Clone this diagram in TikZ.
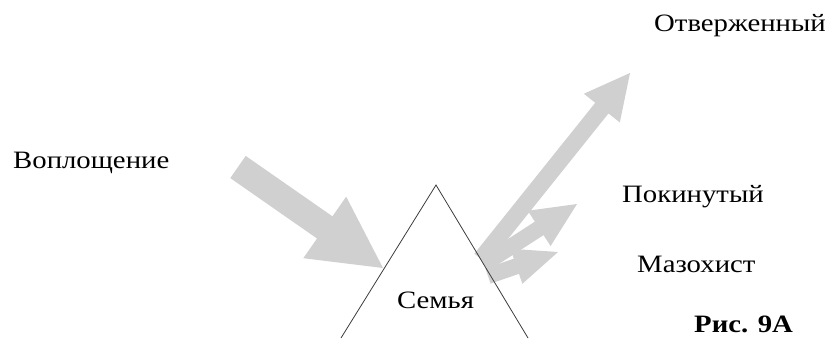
\documentclass[tikz,border=0pt]{standalone}
\usepackage{fontspec}
\setmainfont{Liberation Serif}[FakeStretch=1.15]
\usetikzlibrary{calc}
\definecolor{arrowgray}{RGB}{208,208,208}
\definecolor{edgegray}{RGB}{60,60,60}
\tikzset{
  lbl/.style={anchor=base west,inner sep=0pt,font=\fontsize{25}{30}\selectfont},
  fig/.style={anchor=base west,inner sep=0pt,font=\fontsize{25}{30}\selectfont\bfseries},
  arrowfill/.style={fill=arrowgray},
  edge/.style={draw=edgegray,line width=0.8pt}
}
% #1 tail, #2 tip, #3 half shaft width, #4 half head width, #5 head length
\newcommand\fatarrow[5]{%
  \coordinate (fa-h) at ($(#2)!#5!(#1)$);
  \fill[arrowfill] ($(#1)!#3!90:(#2)$) -- ($(fa-h)!#3!90:(#2)$) -- ($(fa-h)!#4!90:(#2)$)
    -- (#2) -- ($(fa-h)!#4!-90:(#2)$) -- ($(fa-h)!#3!-90:(#2)$) -- ($(#1)!#3!-90:(#2)$) -- cycle;
}
\begin{document}
\begin{tikzpicture}[x=1pt,y=-1pt]
\useasboundingbox (0,0) rectangle (830,338);
% coordinates
\coordinate (inTail) at (238,167);
\coordinate (inTip) at (383,268);
\coordinate (rejTail) at (481,259);
\coordinate (rejTip) at (630,73);
\coordinate (abTail) at (484,264);
\coordinate (abTip) at (577,204);
\coordinate (maTail) at (488,276);
\coordinate (maTip) at (558,252);
\coordinate (apex) at (436,185);
\coordinate (bl) at (341,338);
\coordinate (br) at (528,338);
% arrows
\fatarrow{inTail}{inTip}{13.5pt}{37.5pt}{71pt}
\fatarrow{rejTail}{rejTip}{8.5pt}{23pt}{45pt}
\fatarrow{abTail}{abTip}{8pt}{21pt}{45pt}
\fatarrow{maTail}{maTip}{8pt}{18.5pt}{44pt}
% triangle
\draw[edge] (bl) -- (apex) -- (br);
% labels
\node[lbl] (voplo) at (13,168) {Воплощение};
\node[lbl] (otverg) at (654,31) {Отверженный};
\node[lbl] (pokin) at (622,202) {Покинутый};
\node[lbl] (mazo) at (637,272) {Мазохист};
\node[lbl] (semya) at (397,308) {Семья};
\node[fig] (ris) at (694,332) {Рис. 9А};
\end{tikzpicture}
\end{document}
